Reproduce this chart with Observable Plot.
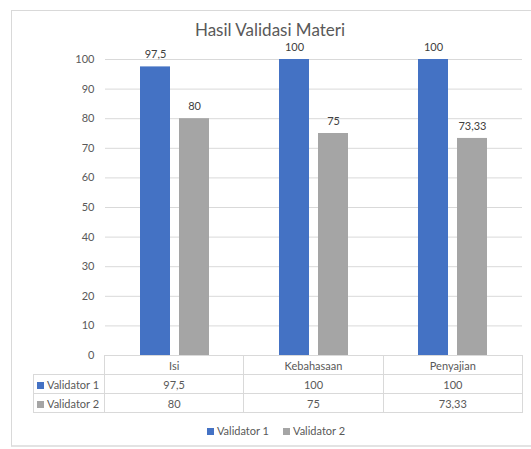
<!DOCTYPE html>
<html>
<head>
<meta charset="utf-8">
<script src="https://cdn.jsdelivr.net/npm/d3@7"></script>
<script src="https://cdn.jsdelivr.net/npm/@observablehq/plot@0.6"></script>
<style>
  html, body { margin: 0; padding: 0; background: #fff; }
  #wrap { position: relative; width: 531px; height: 449px; overflow: hidden; font-family: Lato, "Open Sans", sans-serif; color: #595959; }
  #frame { position: absolute; left: 11px; top: 10px; width: 530px; height: 434px; border-left: 1px solid #d9d9d9; border-top: 1px solid #d9d9d9; border-bottom: 2px solid #e3e3e3; box-sizing: content-box; }
  #title { position: absolute; left: 0; width: 540px; top: 22px; text-align: center; font-size: 17px; line-height: 15px; color: #595959; }
  #chart { position: absolute; left: 0; top: 0; }
  #tbl { position: absolute; left: 33px; top: 355px; border-collapse: collapse; font-size: 11px; color: #595959; }
  #tbl td { border: 1px solid #d9d9d9; padding: 0; height: 18px; line-height: 17px; text-align: center; }
  #tbl td.key { text-align: left; padding-left: 3px; width: 67px; white-space: nowrap; }
  #tbl td.blank { border-top: none; border-left: none; }
  .sw { display: inline-block; width: 7px; height: 7px; margin-right: 3px; vertical-align: 0px; }
  #legend { position: absolute; top: 424px; left: 0; width: 552px; text-align: center; font-size: 11px; color: #595959; }
  #legend span.item { margin: 0 7px; }
</style>
</head>
<body>
<div id="wrap">
  <div id="frame"></div>
  <div id="title"></div>
  <div id="chart"></div>
  <table id="tbl"></table>
  <div id="legend"></div>
</div>
<script>
const titleText = "Hasil Validasi Materi";
const categories = ["Isi", "Kebahasaan", "Penyajian"];
const series = ["Validator 1", "Validator 2"];
const validator1 = [97.5, 100, 100];
const validator2 = [80, 75, 73.33];
const yTicks = [0, 10, 20, 30, 40, 50, 60, 70, 80, 90, 100];
const colors = ["#4472C4", "#A5A5A5"];

const values = [validator1, validator2];
const fmt = v => String(v).replace(".", ",");
const data = [];
series.forEach((s, si) => categories.forEach((c, ci) => data.push({category: c, series: s, value: values[si][ci]})));

document.getElementById("title").textContent = titleText;

const chart = Plot.plot({
  width: 531,
  height: 365,
  marginTop: 59,
  marginBottom: 10,
  marginLeft: 104,
  marginRight: 9,
  style: {fontFamily: "Lato, 'Open Sans', sans-serif", fontSize: "11px", color: "#595959", background: "transparent"},
  fx: {domain: categories, padding: 0, axis: null, label: null},
  x: {domain: series, paddingInner: 0.225, paddingOuter: 0.854, axis: null},
  y: {domain: [0, 100], axis: null},
  color: {domain: series, range: colors},
  marks: [
    Plot.gridY(yTicks, {stroke: "#d9d9d9", strokeOpacity: 1}),
    Plot.axisY(yTicks, {tickSize: 0, tickPadding: 11, label: null, facetAnchor: "left", fill: "#595959", fontSize: 11}),
    Plot.barY(data, {fx: "category", x: "series", y: "value", fill: "series"}),
    Plot.text(data, {fx: "category", x: "series", y: "value", text: d => fmt(d.value), dy: -12, fill: "#404040", fontSize: 11})
  ]
});
document.getElementById("chart").appendChild(chart);

// data table below the plot, aligned with the fx bands
const tbl = document.getElementById("tbl");
const colW = (531 - 104 - 9) / categories.length;
let html = '<tr><td class="blank"></td>' + categories.map(c => `<td style="width:${colW - 1}px">${c}</td>`).join("") + "</tr>";
series.forEach((s, si) => {
  html += `<tr><td class="key"><span class="sw" style="background:${colors[si]}"></span>${s}</td>` +
    values[si].map(v => `<td>${fmt(v)}</td>`).join("") + "</tr>";
});
tbl.innerHTML = html;

document.getElementById("legend").innerHTML = series.map((s, si) =>
  `<span class="item"><span class="sw" style="background:${colors[si]}"></span>${s}</span>`).join("");
</script>
</body>
</html>
